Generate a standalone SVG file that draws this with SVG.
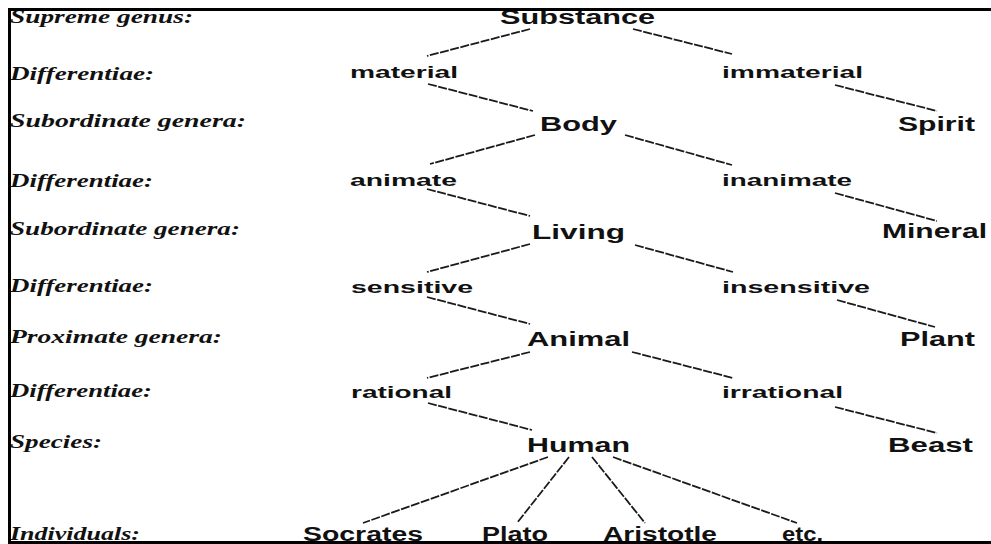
<svg xmlns="http://www.w3.org/2000/svg" width="991" height="544" viewBox="0 0 991 544">
  <style>
    .lvl { font-family: "Liberation Serif", "Times New Roman", serif; font-style: italic; font-weight: bold; font-size: 18px; fill: #111; }
    .gen { font-family: "Liberation Sans", Arial, sans-serif; font-weight: bold; font-size: 19.5px; fill: #111; }
    .dif { font-family: "Liberation Sans", Arial, sans-serif; font-weight: bold; font-size: 17px; fill: #111; }
    .edge { stroke: #1a1a1a; stroke-width: 1.8; fill: none; stroke-dasharray: 9 1.5; }
  </style>
  <rect width="991" height="544" fill="#fff"/>

  <!-- level captions -->
  <g id="levels">
    <text class="lvl" x="10" y="23" textLength="183" lengthAdjust="spacingAndGlyphs">Supreme genus:</text>
    <text class="lvl" x="10" y="80" textLength="144" lengthAdjust="spacingAndGlyphs">Differentiae:</text>
    <text class="lvl" x="10" y="127" textLength="236" lengthAdjust="spacingAndGlyphs">Subordinate genera:</text>
    <text class="lvl" x="10" y="187" textLength="143" lengthAdjust="spacingAndGlyphs">Differentiae:</text>
    <text class="lvl" x="10" y="235" textLength="230" lengthAdjust="spacingAndGlyphs">Subordinate genera:</text>
    <text class="lvl" x="10" y="292" textLength="143" lengthAdjust="spacingAndGlyphs">Differentiae:</text>
    <text class="lvl" x="10" y="343" textLength="212" lengthAdjust="spacingAndGlyphs">Proximate genera:</text>
    <text class="lvl" x="10" y="397" textLength="142" lengthAdjust="spacingAndGlyphs">Differentiae:</text>
    <text class="lvl" x="10" y="448" textLength="92" lengthAdjust="spacingAndGlyphs">Species:</text>
    <text class="lvl" x="10" y="540" textLength="130" lengthAdjust="spacingAndGlyphs">Individuals:</text>
  </g>

  <!-- connectors -->
  <g id="connectors">
    <line class="edge" x1="530" y1="29" x2="427" y2="56"/>
    <line class="edge" x1="428" y1="84" x2="533" y2="111"/>
    <line class="edge" x1="633" y1="29" x2="732" y2="54"/>
    <line class="edge" x1="835" y1="85" x2="937" y2="111"/>
    <line class="edge" x1="535" y1="135" x2="430" y2="164"/>
    <line class="edge" x1="625" y1="135" x2="732" y2="165"/>
    <line class="edge" x1="427" y1="189" x2="530" y2="216"/>
    <line class="edge" x1="835" y1="193" x2="937" y2="221"/>
    <line class="edge" x1="530" y1="244" x2="427" y2="272"/>
    <line class="edge" x1="635" y1="245" x2="733" y2="272"/>
    <line class="edge" x1="427" y1="297" x2="530" y2="324"/>
    <line class="edge" x1="837" y1="300" x2="935" y2="327"/>
    <line class="edge" x1="530" y1="352" x2="427" y2="378"/>
    <line class="edge" x1="632" y1="352" x2="733" y2="378"/>
    <line class="edge" x1="428" y1="403" x2="532" y2="430"/>
    <line class="edge" x1="835" y1="407" x2="937" y2="433"/>
    <line class="edge" x1="548" y1="457" x2="363" y2="523"/>
    <line class="edge" x1="569" y1="457" x2="517" y2="523"/>
    <line class="edge" x1="592" y1="457" x2="645" y2="523"/>
    <line class="edge" x1="613" y1="457" x2="797" y2="523"/>
  </g>

  <!-- tree nodes -->
  <g id="substance"><text class="gen" x="500" y="24" textLength="155" lengthAdjust="spacingAndGlyphs">Substance</text></g>
  <g id="material"><text class="dif" x="350" y="78" textLength="108" lengthAdjust="spacingAndGlyphs">material</text></g>
  <g id="immaterial"><text class="dif" x="722" y="78" textLength="141" lengthAdjust="spacingAndGlyphs">immaterial</text></g>
  <g id="body"><text class="gen" x="540" y="131" textLength="77" lengthAdjust="spacingAndGlyphs">Body</text></g>
  <g id="spirit"><text class="gen" x="898" y="131" textLength="77" lengthAdjust="spacingAndGlyphs">Spirit</text></g>
  <g id="animate"><text class="dif" x="350" y="186" textLength="107" lengthAdjust="spacingAndGlyphs">animate</text></g>
  <g id="inanimate"><text class="dif" x="722" y="186" textLength="130" lengthAdjust="spacingAndGlyphs">inanimate</text></g>
  <g id="living"><text class="gen" x="532" y="239" textLength="93" lengthAdjust="spacingAndGlyphs">Living</text></g>
  <g id="mineral"><text class="gen" x="882" y="238" textLength="105" lengthAdjust="spacingAndGlyphs">Mineral</text></g>
  <g id="sensitive"><text class="dif" x="351" y="293" textLength="122" lengthAdjust="spacingAndGlyphs">sensitive</text></g>
  <g id="insensitive"><text class="dif" x="722" y="293" textLength="148" lengthAdjust="spacingAndGlyphs">insensitive</text></g>
  <g id="animal"><text class="gen" x="527" y="346" textLength="103" lengthAdjust="spacingAndGlyphs">Animal</text></g>
  <g id="plant"><text class="gen" x="900" y="346" textLength="75" lengthAdjust="spacingAndGlyphs">Plant</text></g>
  <g id="rational"><text class="dif" x="351" y="398" textLength="101" lengthAdjust="spacingAndGlyphs">rational</text></g>
  <g id="irrational"><text class="dif" x="722" y="398" textLength="121" lengthAdjust="spacingAndGlyphs">irrational</text></g>
  <g id="human"><text class="gen" x="527" y="452" textLength="103" lengthAdjust="spacingAndGlyphs">Human</text></g>
  <g id="beast"><text class="gen" x="888" y="452" textLength="85" lengthAdjust="spacingAndGlyphs">Beast</text></g>
  <g id="socrates"><text class="gen" x="303" y="541" textLength="120" lengthAdjust="spacingAndGlyphs">Socrates</text></g>
  <g id="plato"><text class="gen" x="482" y="541" textLength="66" lengthAdjust="spacingAndGlyphs">Plato</text></g>
  <g id="aristotle"><text class="gen" x="603" y="541" textLength="114" lengthAdjust="spacingAndGlyphs">Aristotle</text></g>
  <g id="etc"><text class="gen" x="782" y="541" textLength="41" lengthAdjust="spacingAndGlyphs">etc.</text></g>

  <!-- frame: top, left and bottom rules -->
  <g id="frame" fill="#000">
    <rect x="8" y="8" width="983" height="3"/>
    <rect x="8" y="8" width="3" height="536"/>
    <rect x="8" y="541" width="983" height="3"/>
  </g>
</svg>
